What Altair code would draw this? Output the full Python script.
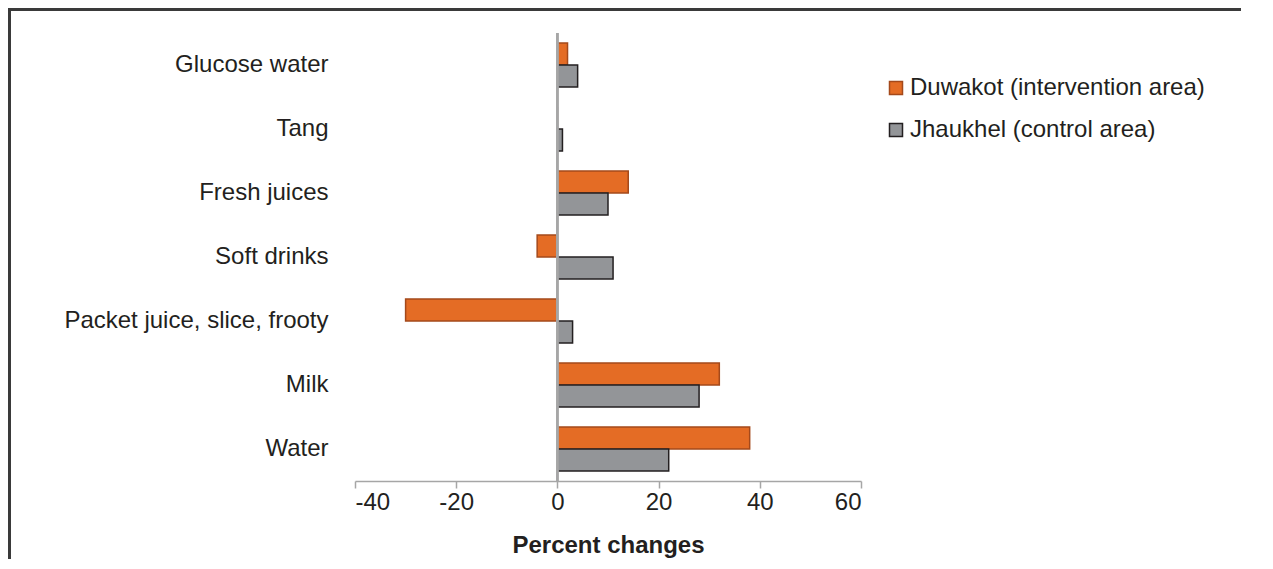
import altair as alt
import pandas as pd

categories = ["Glucose water", "Tang", "Fresh juices", "Soft drinks",
              "Packet juice, slice, frooty", "Milk", "Water"]
duwakot = [2, 0, 14, -4, -30, 32, 38]
jhaukhel = [4, 1, 10, 11, 3, 28, 22]
series = ["Duwakot (intervention area)", "Jhaukhel (control area)"]
x_ticks = [-40, -20, 0, 20, 40, 60]

rows = []
for c, d, j in zip(categories, duwakot, jhaukhel):
    rows.append({"cat": c, "series": series[0], "value": d})
    rows.append({"cat": c, "series": series[1], "value": j})
df = pd.DataFrame(rows)

FONT = "Liberation Sans"
FS = 24

legend = alt.Legend(title=None, orient="none", legendX=529, legendY=43,
                    symbolType="square", symbolSize=169,
                    symbolStrokeWidth=1.5, labelFontSize=FS,
                    labelFont=FONT, labelColor="#231F20", labelLimit=500,
                    rowPadding=18, labelOffset=2)

bars = alt.Chart(df).mark_bar(strokeWidth=1.5).encode(
    y=alt.Y("cat:N", sort=categories,
            scale=alt.Scale(paddingInner=0.3125, paddingOuter=0.156),
            axis=alt.Axis(title=None, ticks=False, domain=False, labelPadding=27,
                          labelFontSize=FS, labelColor="#231F20", labelFont=FONT,
                          labelLimit=500)),
    yOffset=alt.YOffset("series:N", sort=series),
    x=alt.X("value:Q",
            scale=alt.Scale(domain=[-40, 60], nice=False),
            axis=alt.Axis(values=x_ticks, title="Percent changes", grid=False,
                          labelExpr="toString(datum.value)",
                          domainColor="#A6A6A6", domainWidth=1.5,
                          tickColor="#A6A6A6", tickWidth=1.5, tickSize=7,
                          labelFontSize=FS, labelColor="#231F20", labelFont=FONT,
                          labelPadding=2,
                          titleFontSize=FS, titleFontWeight="bold", titleColor="#231F20",
                          titleFont=FONT, titlePadding=19)),
    fill=alt.Fill("series:N", sort=series,
                  scale=alt.Scale(domain=series, range=["#E46C25", "#939598"]),
                  legend=legend),
    stroke=alt.Stroke("series:N", sort=series,
                      scale=alt.Scale(domain=series, range=["#A4491B", "#231F20"]),
                      legend=legend),
)

zero = alt.Chart(df).mark_rule(color="#A6A6A6", strokeWidth=1.5).encode(
    x=alt.datum(0)
)

frame_left = alt.Chart(df).mark_rule(color="#3A3A3A", strokeWidth=2.5).encode(
    x=alt.value(-346), y=alt.value(-25), y2=alt.value(900)
)
frame_top = alt.Chart(df).mark_rule(color="#3A3A3A", strokeWidth=2.5).encode(
    x=alt.value(-347), x2=alt.value(1500), y=alt.value(-24)
)

chart = alt.layer(frame_left, frame_top, bars, zero).properties(
    width=506, height=448,
    autosize=alt.AutoSizeParams(type="none"),
    padding={"left": 347, "top": 25, "right": 380, "bottom": 78},
).configure_view(stroke=None)

chart.save("out.html", embed_options={"renderer": "svg", "actions": False})
